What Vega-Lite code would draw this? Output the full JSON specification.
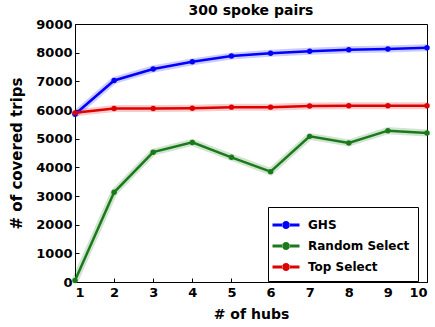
{
  "$schema": "https://vega.github.io/schema/vega-lite/v6.json",
  "autosize": "none",
  "width": 352,
  "height": 258,
  "padding": {"left": 75, "top": 24, "right": 8, "bottom": 45},
  "background": "white",
  "config": {
    "font": "DejaVu Sans",
    "view": {"stroke": "black", "strokeWidth": 1},
    "axis": {"grid": false, "domainColor": "black", "tickColor": "black", "labelFont": "DejaVu Sans", "labelFontWeight": "bold", "labelFontSize": 13, "labelColor": "black", "titleFont": "DejaVu Sans", "titleFontWeight": "bold", "titleColor": "black", "tickSize": -4}
  },
  "title": {"text": "300 spoke pairs", "fontSize": 14, "fontWeight": "bold", "font": "DejaVu Sans", "offset": 0, "color": "black"},
  "data": {"values": [
    {"hubs": 1, "trips": 5850, "method": "GHS"},
    {"hubs": 2, "trips": 7030, "method": "GHS"},
    {"hubs": 3, "trips": 7430, "method": "GHS"},
    {"hubs": 4, "trips": 7680, "method": "GHS"},
    {"hubs": 5, "trips": 7880, "method": "GHS"},
    {"hubs": 6, "trips": 7980, "method": "GHS"},
    {"hubs": 7, "trips": 8050, "method": "GHS"},
    {"hubs": 8, "trips": 8100, "method": "GHS"},
    {"hubs": 9, "trips": 8130, "method": "GHS"},
    {"hubs": 10, "trips": 8170, "method": "GHS"},
    {"hubs": 1, "trips": 50, "method": "Random Select"},
    {"hubs": 2, "trips": 3130, "method": "Random Select"},
    {"hubs": 3, "trips": 4530, "method": "Random Select"},
    {"hubs": 4, "trips": 4870, "method": "Random Select"},
    {"hubs": 5, "trips": 4350, "method": "Random Select"},
    {"hubs": 6, "trips": 3850, "method": "Random Select"},
    {"hubs": 7, "trips": 5080, "method": "Random Select"},
    {"hubs": 8, "trips": 4850, "method": "Random Select"},
    {"hubs": 9, "trips": 5280, "method": "Random Select"},
    {"hubs": 10, "trips": 5200, "method": "Random Select"},
    {"hubs": 1, "trips": 5900, "method": "Top Select"},
    {"hubs": 2, "trips": 6050, "method": "Top Select"},
    {"hubs": 3, "trips": 6050, "method": "Top Select"},
    {"hubs": 4, "trips": 6060, "method": "Top Select"},
    {"hubs": 5, "trips": 6100, "method": "Top Select"},
    {"hubs": 6, "trips": 6100, "method": "Top Select"},
    {"hubs": 7, "trips": 6140, "method": "Top Select"},
    {"hubs": 8, "trips": 6150, "method": "Top Select"},
    {"hubs": 9, "trips": 6150, "method": "Top Select"},
    {"hubs": 10, "trips": 6150, "method": "Top Select"}
  ]},
  "encoding": {
    "x": {"field": "hubs", "type": "quantitative", "scale": {"domain": [1, 10], "nice": false}, "axis": {"values": [1,2,3,4,5,6,7,8,9,10], "format": "d", "title": "# of hubs", "titleFontSize": 14, "labelPadding": 8, "titlePadding": 8}},
    "y": {"field": "trips", "type": "quantitative", "scale": {"domain": [0, 9000], "nice": false}, "axis": {"values": [0,1000,2000,3000,4000,5000,6000,7000,8000,9000], "format": "d", "title": "# of covered trips", "titleFontSize": 15, "labelPadding": 7, "titlePadding": 11}},
    "color": {"field": "method", "type": "nominal", "scale": {"domain": ["GHS", "Random Select", "Top Select"], "range": ["#0000ff", "#1a7a1a", "#e00000"]}, "legend": {"title": null, "orient": "none", "legendX": 193, "legendY": 183, "strokeColor": "black", "fillColor": "white", "padding": 8, "labelFont": "DejaVu Sans", "labelFontWeight": "bold", "labelFontSize": 12, "labelColor": "black", "labelOffset": 12, "symbolType": "M-1.35,-0.15H-0.35V0.15H-1.35ZM0.35,-0.15H1.35V0.15H0.35ZM-0.4,0a0.4,0.4 0 1,0 0.8,0a0.4,0.4 0 1,0 -0.8,0", "symbolSize": 400, "symbolOpacity": 1, "symbolStrokeWidth": 0, "rowPadding": 5, "cornerRadius": 0, "offset": 0}}
  },
  "layer": [
    {"mark": {"type": "line", "strokeWidth": 7, "opacity": 0.2}},
    {"mark": {"type": "line", "strokeWidth": 2.5, "point": {"filled": true, "size": 30}}}
  ]
}
